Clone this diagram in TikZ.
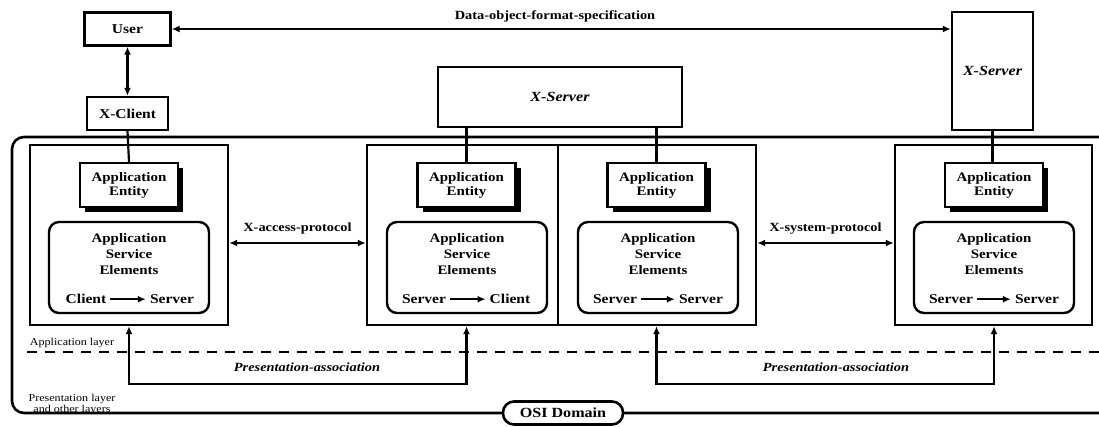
\documentclass[tikz,border=0pt]{standalone}
\usepackage{fontspec}
\setmainfont{Liberation Serif}[FakeStretch=1.15]
\usetikzlibrary{arrows.meta,shadows,calc}

\tikzset{
  tip/.tip={Latex[length=8pt,width=7pt]},
  plainbox/.style={draw, line width=2.4pt, fill=white, inner sep=0pt,
    font=\bfseries\fontsize{13.5}{15}\selectfont},
  appbox/.style={draw, line width=2.4pt, inner sep=0pt, minimum height=180pt},
  aebox/.style={draw, line width=2.4pt, fill=white, inner sep=0pt, align=center,
    minimum width=98pt, minimum height=44pt,
    font=\bfseries\fontsize{13}{14}\selectfont,
    drop shadow={shadow xshift=5pt, shadow yshift=-5pt, fill=black, opacity=1}},
  asebox/.style={draw, line width=2.4pt, rounded corners=10pt, inner sep=0pt,
    minimum width=160pt, minimum height=91pt},
  asetext/.style={align=center, inner sep=0pt,
    font=\bfseries\fontsize{13}{16}\selectfont},
  roletext/.style={inner sep=1pt, font=\bfseries\fontsize{13.5}{14}\selectfont},
  lbl/.style={inner sep=1pt, font=\bfseries\fontsize{12.5}{14}\selectfont},
  ilbl/.style={inner sep=1pt, font=\bfseries\itshape\fontsize{12.5}{14}\selectfont},
  small/.style={inner sep=0pt, align=center, font=\fontsize{10.5}{11}\selectfont},
  link/.style={line width=2.2pt},
  dbl/.style={line width=2.2pt, tip-tip},
  onearrow/.style={line width=2.2pt, -{Latex[length=8pt,width=7pt]}},
}

\begin{document}
\begin{tikzpicture}[x=1pt,y=-1pt]
\useasboundingbox (0,0) rectangle (1099,427);

% OSI domain frame (open to the right)
\draw[line width=2.6pt, rounded corners=12pt] (1130,137) -- (12,137) -- (12,413) -- (1130,413);

% layer separation
\draw[line width=2.6pt, dash pattern=on 10pt off 8pt] (27,352) -- (1099,352);
\node[small] (applayer) at (72,343) {Application layer};
\node[small] (preslayer) at (72,404) {Presentation layer\\and other layers};

% top level boxes
\node[plainbox, minimum width=86pt, minimum height=33pt] (user) at (127.5,29) {User};
\node[plainbox, minimum width=81pt, minimum height=33pt] (xcl) at (127.5,113.5) {X-Client};
\node[plainbox, minimum width=244pt, minimum height=60pt,
      font=\bfseries\itshape\fontsize{14}{15}\selectfont] (xsm) at (560,97) {X-Server};
\node[plainbox, minimum width=81pt, minimum height=118pt,
      font=\bfseries\itshape\fontsize{14}{15}\selectfont] (xsr) at (992.5,71) {X-Server};

% application boxes
\node[appbox, minimum width=198pt] (appL) at (129,235) {};
\node[appbox, minimum width=191pt] (appML) at (462.5,235) {};
\node[appbox, minimum width=198pt] (appMR) at (657,235) {};
\node[appbox, minimum width=197pt] (appR) at (993.5,235) {};

% application entities
\node[aebox] (aeL) at (129,185) {Application\\Entity};
\node[aebox] (aeML) at (466.5,185) {Application\\Entity};
\node[aebox] (aeMR) at (656.5,185) {Application\\Entity};
\node[aebox] (aeR) at (994,185) {Application\\Entity};

% application service elements
\foreach \n/\x/\a/\b in {L/129/Client/Server, ML/467/Server/Client,
                        MR/658/Server/Server, R/994/Server/Server}{
  \node[asebox] (as\n) at (\x,267.5) {};
  \node[asetext, anchor=north] (ast\n) at ($(as\n.north)+(0,12)$) {Application\\Service\\Elements};
  \node[roletext] (ra\n) at ($(as\n.south)+(-43,-15)$) {\a};
  \node[roletext] (rb\n) at ($(as\n.south)+(43,-15)$) {\b};
  \draw[onearrow, shorten <=3pt, shorten >=3pt] (ra\n.east) -- (rb\n.west);
}

% links
\draw[dbl] (user.south) -- (xcl.north);
\draw[dbl] (user.east) -- (user.east -| xsr.west);
\node[lbl] (dofs) at (555,16) {Data-object-format-specification};
\draw[link] (xcl.south) -- (aeL.north);
\draw[link] (xsm.south -| aeML.north) -- (aeML.north);
\draw[link] (xsm.south -| aeMR.north) -- (aeMR.north);
\draw[link] (xsr.south) -- (xsr.south |- aeR.north);

% protocols
\draw[dbl] ($(appL.east)+(0,8)$) -- ($(appML.west)+(0,8)$)
  node[lbl, midway, above=7pt] (xap) {X-access-protocol};
\draw[dbl] ($(appMR.east)+(0,8)$) -- ($(appR.west)+(0,8)$)
  node[lbl, midway, above=7pt] (xsp) {X-system-protocol};

% presentation associations
\draw[dbl] (appL.south -| aeL.south) -- ++(0,58) -| (appML.south -| aeML.south);
\draw[dbl] (appMR.south -| aeMR.south) -- ++(0,58) -| (appR.south -| aeR.south);
\node[ilbl] (pa1) at (307,367) {Presentation-association};
\node[ilbl] (pa2) at (836,367) {Presentation-association};

% domain tag
\node[draw, line width=2.6pt, fill=white, rounded corners=11pt, minimum width=120pt,
      minimum height=23pt, inner sep=0pt, font=\bfseries\fontsize{14}{15}\selectfont]
      (osi) at (563,413) {OSI Domain};
\end{tikzpicture}
\end{document}
